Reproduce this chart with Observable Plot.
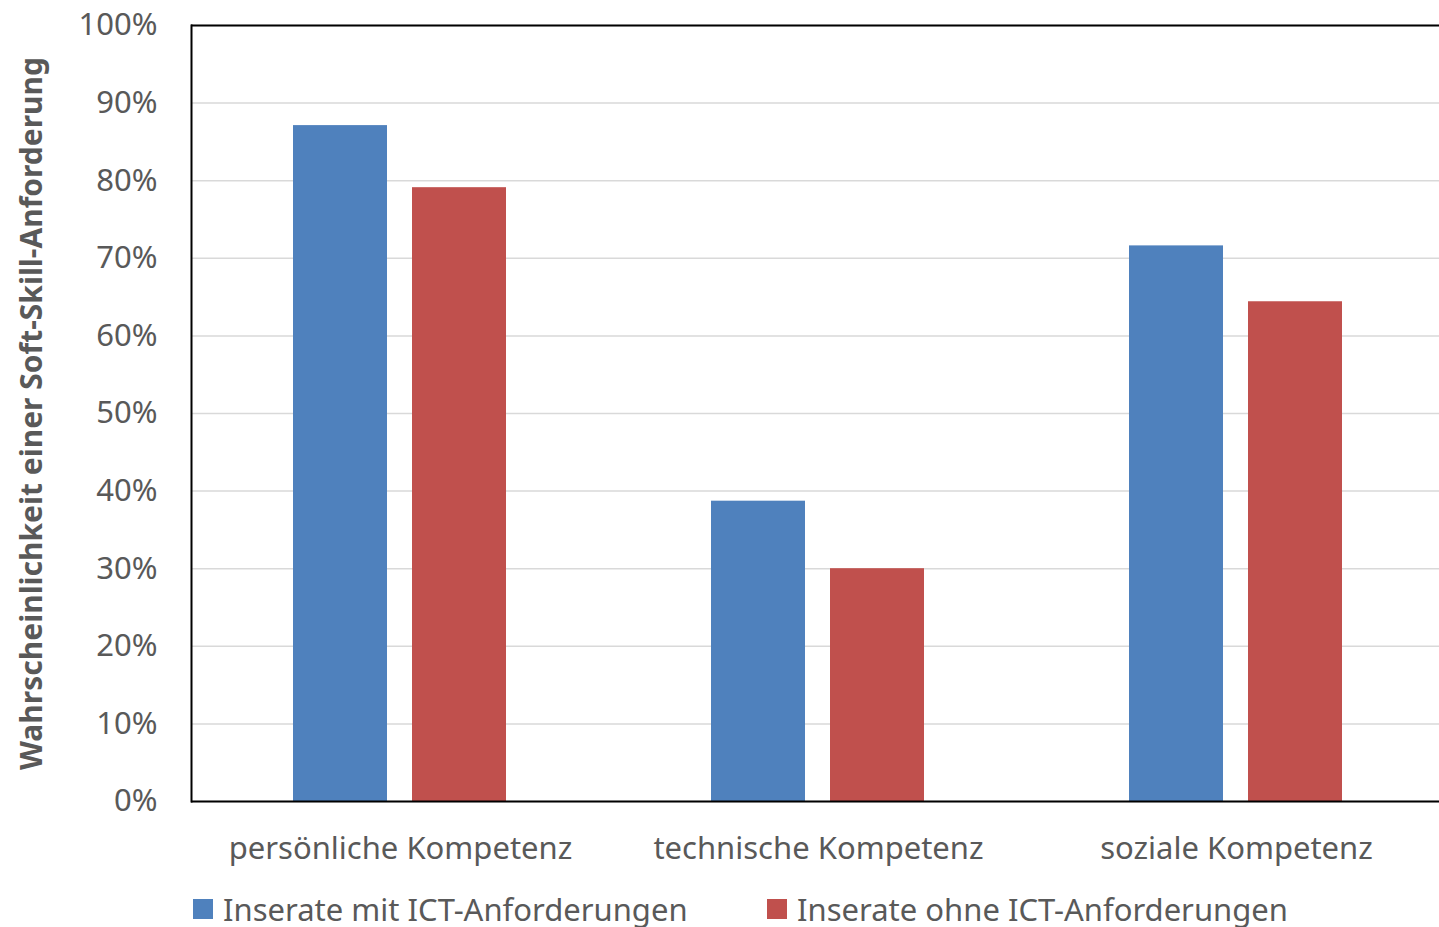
<!DOCTYPE html>
<html>
<head>
<meta charset="utf-8">
<script src="https://cdn.jsdelivr.net/npm/d3@7"></script>
<script src="https://cdn.jsdelivr.net/npm/@observablehq/plot@0.6"></script>
<style>
  html, body { margin: 0; padding: 0; background: white; overflow: hidden; }
  #chart { position: relative; width: 1439px; height: 927px; }
  .legend { position: absolute; top: 884px; left: 0; height: 50px; width: 1439px;
            font-family: "Noto Sans", sans-serif; font-size: 31px; line-height: 32px; color: #595959; }
  .legend .item { position: absolute; top: 0; height: 50px; display: flex; align-items: center; white-space: nowrap; }
  .legend .sw { width: 20px; height: 20px; margin-right: 10px; }
</style>
</head>
<body>
<div id="chart"></div>
<script>
const categories = ["persönliche Kompetenz", "technische Kompetenz", "soziale Kompetenz"];
const series = ["Inserate mit ICT-Anforderungen", "Inserate ohne ICT-Anforderungen"];
const mitICT = [0.871, 0.387, 0.716];
const ohneICT = [0.791, 0.300, 0.644];
const yTicks = [0, 0.1, 0.2, 0.3, 0.4, 0.5, 0.6, 0.7, 0.8, 0.9, 1.0];
const colors = ["#4f81bd", "#c0504d"];
const yLabel = "Wahrscheinlichkeit einer Soft-Skill-Anforderung";

const data = [];
categories.forEach((c, i) => {
  data.push({cat: c, series: series[0], value: mitICT[i]});
  data.push({cat: c, series: series[1], value: ohneICT[i]});
});

const chart = Plot.plot({
  width: 1439,
  height: 870,
  marginLeft: 190,
  marginRight: 0,
  marginTop: 25,
  marginBottom: 69,
  style: {fontFamily: "Noto Sans", fontSize: "31px", color: "#595959", background: "white", overflow: "visible"},
  fx: {domain: categories, range: [190.5, 1444.5], padding: 0, label: null},
  x: {domain: series, paddingInner: 0.21, paddingOuter: 0.8613, axis: null},
  y: {domain: [0, 1]},
  color: {domain: series, range: colors},
  marks: [
    Plot.gridY(yTicks, {stroke: "#d9d9d9", strokeOpacity: 1, strokeWidth: 1.5}),
    Plot.barY(data, {fx: "cat", x: "series", y: "value", fill: "series"}),
    Plot.ruleY([0, 1], {stroke: "black", strokeWidth: 2}),
    Plot.frame({anchor: "left", facetAnchor: "left", stroke: "black", strokeWidth: 2}),
    Plot.axisY(yTicks, {tickFormat: d3.format(".0%"), tickSize: 0, tickPadding: 34, label: yLabel, labelAnchor: "center", labelArrow: "none", labelOffset: 171, fill: "#595959"}),
    Plot.axisFx({anchor: "bottom", tickSize: 0, tickPadding: 35, label: null, fill: "#595959"})
  ]
});

d3.select(chart).selectAll("text").filter(function() { return this.textContent.startsWith(yLabel); })
  .text(yLabel).attr("font-weight", "bold").attr("font-size", 30);

const root = document.getElementById("chart");
root.appendChild(chart);

const legend = document.createElement("div");
legend.className = "legend";
const lefts = [193, 767];
series.forEach((s, i) => {
  const item = document.createElement("div");
  item.className = "item";
  item.style.left = lefts[i] + "px";
  const sw = document.createElement("span");
  sw.className = "sw";
  sw.style.background = colors[i];
  const t = document.createElement("span");
  t.textContent = s;
  item.appendChild(sw);
  item.appendChild(t);
  legend.appendChild(item);
});
root.appendChild(legend);
</script>
</body>
</html>
